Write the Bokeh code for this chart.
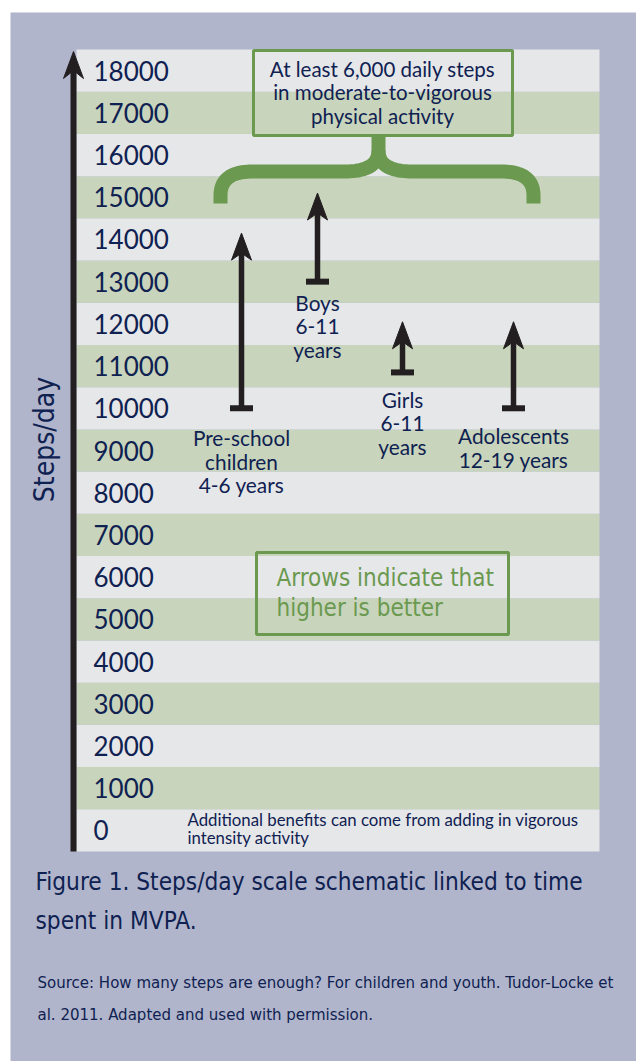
import numpy as np
from bokeh.plotting import figure
from bokeh.models import Range1d
from bokeh.core.properties import value
from bokeh.embed import file_html
from bokeh.resources import INLINE

# ---------------- data ----------------
tick_values = [0, 1000, 2000, 3000, 4000, 5000, 6000, 7000, 8000, 9000,
               10000, 11000, 12000, 13000, 14000, 15000, 16000, 17000, 18000]
tick_labels = ["0", "1000", "2000", "3000", "4000", "5000", "6000", "7000", "8000", "9000",
               "10000", "11000", "12000", "13000", "14000", "15000", "16000", "17000", "18000"]
groups = ["Pre-school children 4-6 years", "Boys 6-11 years",
          "Girls 6-11 years", "Adolescents 12-19 years"]
group_label_lines = [["Pre-school", "children", "4-6 years"],
                     ["Boys", "6-11", "years"],
                     ["Girls", "6-11", "years"],
                     ["Adolescents", "12-19 years"]]
steps_low = [10000, 13000, 10850, 10000]
steps_high = [14150, 15100, 12050, 12050]
target_lines = ["At least 6,000 daily steps", "in moderate-to-vigorous", "physical activity"]
arrows_lines = ["Arrows indicate that", "higher is better"]
note_lines = ["Additional benefits can come from adding in vigorous", "intensity activity"]
y_title = "Steps/day"
caption_lines = ["Figure 1. Steps/day scale schematic linked to time", "spent in MVPA."]
source_lines = ["Source:  How many steps are enough? For children and youth. Tudor-Locke et",
                "al. 2011.  Adapted and used with permission."]

# ---------------- style / layout ----------------
W, H = 636, 1061
LAV = "#b0b5cb"
LIGHT = "#e6e7e9"
GREENBAND = "#c8d5bc"
GREEN = "#6a994f"
NAVY = "#0f2151"
BLACK = "#231f20"
GEO = value("Lato")
NARROW = value("DejaVu Sans Condensed")

PANEL_L, PANEL_R = 76, 599
PANEL_T, PANEL_B = 49, 851
BAND = (PANEL_B - PANEL_T) / len(tick_values)
SPP = 1000.0 / BAND  # steps per pixel
y0 = -500 - (H - PANEL_B) * SPP
y1 = 18500 + PANEL_T * SPP

group_x = [241, 317, 402, 513]

p = figure(width=W, height=H, output_backend="svg", toolbar_location=None,
           x_range=Range1d(0, W), y_range=Range1d(y0, y1),
           x_axis_type=None, y_axis_type=None, min_border=0,
           min_border_left=0, min_border_right=0, min_border_top=0, min_border_bottom=0)
p.extra_y_ranges = {"px": Range1d(H, 0)}
p.outline_line_color = None
p.background_fill_color = "white"
p.border_fill_color = "white"
p.grid.visible = False

# lavender backdrop
p.quad(left=[10], right=[W], top=[12], bottom=[H], fill_color=LAV, line_color=None,
       y_range_name="px")

# stripes
band_colors = [LIGHT if (v // 1000) % 2 == 0 else GREENBAND for v in tick_values]
p.hbar(y=tick_values, height=1000, left=PANEL_L, right=PANEL_R,
       fill_color=band_colors, line_color=None)

# vertical axis arrow
AX = 73
p.segment(x0=[AX], y0=[PANEL_B], x1=[AX], y1=[68], line_color=BLACK, line_width=6,
          y_range_name="px")
p.patch(x=[AX, AX + 10, AX, AX - 10], y=[51, 78, 70, 78], fill_color=BLACK,
        line_color=BLACK, line_width=1, y_range_name="px")

# tick labels
p.text(x=[93] * len(tick_values), y=tick_values, text=tick_labels, text_font=GEO,
       text_font_size="26px", text_color=NAVY, text_baseline="middle", text_align="left")

# axis title
p.text(x=[44], y=[439], text=[y_title], angle=np.pi / 2, text_font=NARROW,
       text_font_size="28px", text_color=NAVY, text_align="center",
       text_baseline="middle", y_range_name="px")

# target box + brace
p.quad(left=[253], right=[512], top=[50], bottom=[135], fill_color=None,
       line_color=GREEN, line_width=3, y_range_name="px")
p.text(x=[382] * 3, y=[68, 91.5, 115], text=target_lines, text_font=GEO,
       text_font_size="20.5px", text_color=NAVY, text_align="center",
       text_baseline="middle", y_range_name="px")


def qb(p0, c, p1, n=24):
    t = np.linspace(0, 1, n)
    x = (1 - t) ** 2 * p0[0] + 2 * (1 - t) * t * c[0] + t ** 2 * p1[0]
    y = (1 - t) ** 2 * p0[1] + 2 * (1 - t) * t * c[1] + t ** 2 * p1[1]
    return list(x), list(y)


BL, BR, BC, BYB, BYH, BYC, BYT = 220, 533, 378, 203, 171, 150, 135
lx, ly = [BL], [BYB]
cx, cy = qb((BL, BYB - 8), (BL, BYH), (BL + 32, BYH)); lx += cx; ly += cy
cx, cy = qb((BC - 34, BYH), (BC, BYH), (BC, BYC)); lx += cx; ly += cy
lx += [BC]; ly += [BYT]
rx, ry = qb((BC, BYC), (BC, BYH), (BC + 34, BYH))
cx, cy = qb((BR - 32, BYH), (BR, BYH), (BR, BYB - 8)); rx += cx; ry += cy
rx += [BR]; ry += [BYB]
p.multi_line(xs=[lx, rx], ys=[ly, ry], line_color=GREEN, line_width=14,
             line_join="round", line_cap="butt", y_range_name="px")

# group arrows
HEAD_H, HEAD_N, HEAD_W = 27 * SPP, 20 * SPP, 10
p.segment(x0=group_x, y0=steps_low, x1=group_x,
          y1=[h - HEAD_N for h in steps_high], line_color=BLACK, line_width=5.5)
p.segment(x0=[x - 11.5 for x in group_x], y0=steps_low,
          x1=[x + 11.5 for x in group_x], y1=steps_low, line_color=BLACK, line_width=6)
p.patches(xs=[[x, x + HEAD_W, x, x - HEAD_W] for x in group_x],
          ys=[[h, h - HEAD_H, h - HEAD_N, h - HEAD_H] for h in steps_high],
          fill_color=BLACK, line_color=BLACK, line_width=1)

# group labels
label_first_center = [437, 302, 399, 435]
gx, gy, gt = [], [], []
for x, b, lines in zip(group_x, label_first_center, group_label_lines):
    for i, t in enumerate(lines):
        gx.append(x); gy.append(b + 23.5 * i); gt.append(t)
p.text(x=gx, y=gy, text=gt, text_font=GEO, text_font_size="20.8px", text_color=NAVY,
       text_align="center", text_baseline="middle", y_range_name="px")

# arrows note box
p.quad(left=[256], right=[508], top=[552], bottom=[634], fill_color=None,
       line_color=GREEN, line_width=3, y_range_name="px")
p.text(x=[276, 276], y=[577, 607], text=arrows_lines, text_font=NARROW,
       text_font_size="24px", text_color=GREEN, text_align="left",
       text_baseline="middle", y_range_name="px")

# bottom note
p.text(x=[187, 187], y=[819, 837], text=note_lines, text_font=GEO,
       text_font_size="16.8px", text_color=NAVY, text_align="left",
       text_baseline="middle", y_range_name="px")

# caption and source
p.text(x=[35, 35], y=[881, 920], text=caption_lines, text_font=NARROW,
       text_font_size="24.2px", text_color=NAVY, text_align="left",
       text_baseline="middle", y_range_name="px")
p.text(x=[37, 37], y=[981, 1013], text=source_lines, text_font=NARROW,
       text_font_size="16.7px", text_color=NAVY, text_align="left",
       text_baseline="middle", y_range_name="px")

open("out.html", "w").write(file_html(p, INLINE))
